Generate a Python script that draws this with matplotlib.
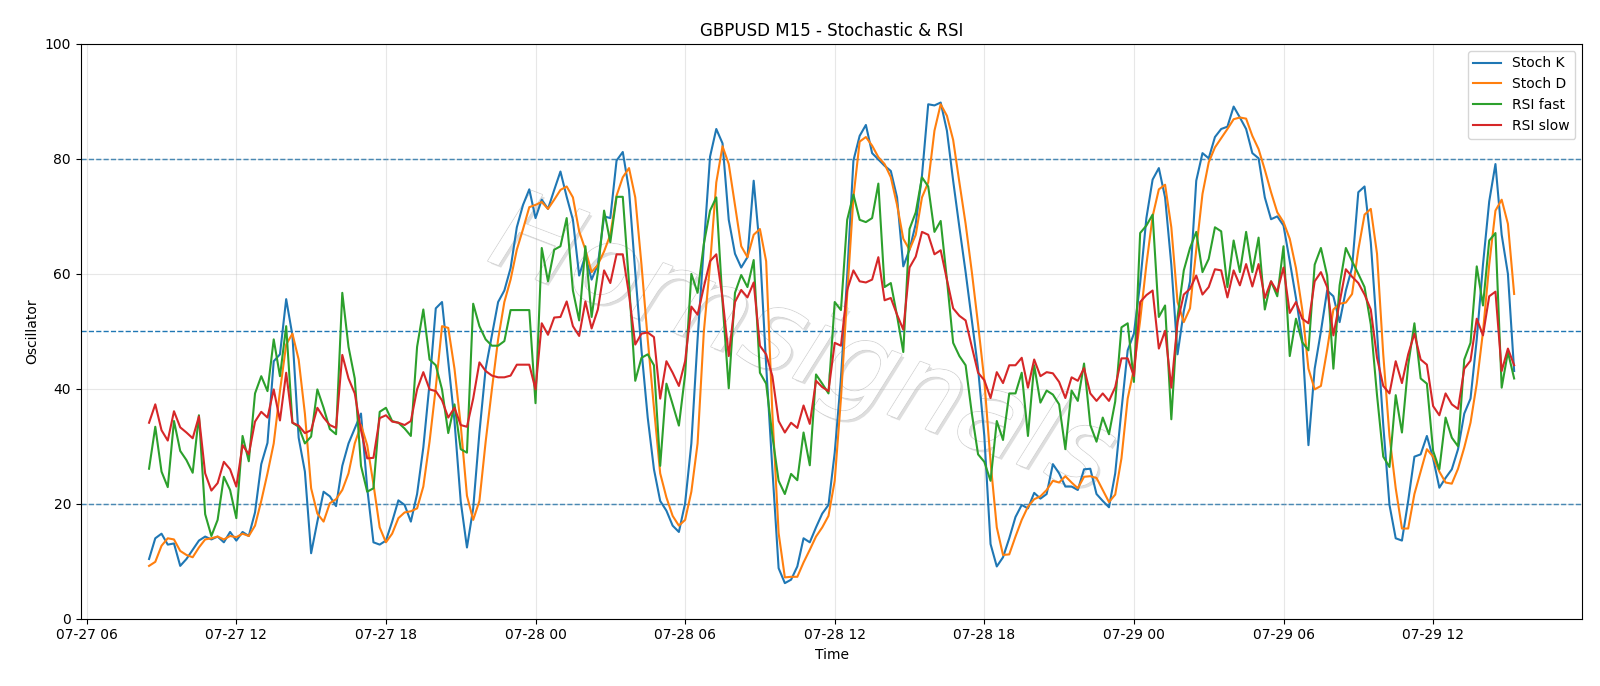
import matplotlib
matplotlib.use("Agg")
import matplotlib.pyplot as plt
import matplotlib.dates as mdates
import matplotlib.patheffects as pe
import pandas as pd

start_time = "2025-07-27 08:30"
n_points = 220

stoch_k = [
    10.4, 14.0, 14.8, 12.9, 13.1, 9.2, 10.4, 12.0, 13.6, 14.3, 13.8, 14.3, 13.3, 15.1, 13.6, 15.1, 14.4, 18.5, 26.9, 30.6,
    44.8, 46.0, 55.6, 49.3, 31.5, 25.6, 11.4, 16.9, 22.1, 21.3, 19.6, 26.6, 30.5, 33.1, 35.7, 22.7, 13.3, 12.9, 13.6, 16.9, 20.6,
    19.8, 16.9, 21.7, 29.8, 40.9, 54.0, 55.1, 44.8, 34.4, 20.4, 12.4, 19.2, 32.4, 43.5, 49.3, 55.1, 57.1, 61.0, 68.1, 72.0, 74.7,
    69.7, 72.9, 71.3, 74.6, 77.8, 73.4, 69.4, 59.7, 63.2, 59.0, 61.6, 70.0, 69.7, 79.7, 81.2, 74.6, 60.3, 46.7, 35.0, 26.0, 20.5,
    18.8, 16.2, 15.1, 20.1, 30.5, 48.6, 64.8, 80.4, 85.2, 82.7, 69.4, 63.5, 61.1, 62.9, 76.2, 64.2, 44.1, 26.0, 8.8, 6.2, 6.8,
    9.1, 14.0, 13.3, 15.9, 18.3, 19.8, 28.9, 41.8, 59.7, 79.7, 84.0, 85.9, 81.0, 79.9, 78.8, 77.9, 73.3, 61.3, 64.2, 68.7, 77.1,
    89.5, 89.3, 89.8, 84.9, 76.2, 68.1, 60.3, 51.9, 43.5, 31.8, 13.0, 9.1, 10.7, 14.0, 17.7, 19.8, 19.2, 21.9, 20.9, 21.7, 26.9,
    25.3, 23.0, 23.0, 22.4, 26.0, 26.1, 21.7, 20.5, 19.4, 25.3, 36.3, 46.7, 49.6, 58.4, 69.7, 76.4, 78.4, 73.3, 61.6, 46.0, 53.5,
    58.7, 76.2, 81.0, 80.1, 83.8, 85.2, 85.6, 89.1, 87.2, 85.2, 81.0, 80.1, 73.3, 69.5, 70.0, 68.4, 62.2, 55.8, 48.6, 30.2, 43.5,
    50.0, 57.1, 56.1, 51.6, 57.1, 61.1, 74.2, 75.2, 65.5, 49.9, 33.7, 19.8, 14.0, 13.6, 20.5, 28.2, 28.6, 31.8, 27.9, 22.8, 24.5,
    26.0, 29.5, 35.7, 38.3, 48.6, 61.6, 72.6, 79.1, 66.8, 60.0, 43.1,
]

stoch_d = [
    9.2, 9.9, 12.7, 14.0, 13.8, 11.8, 11.1, 10.7, 12.4, 13.8, 14.0, 14.3, 13.8, 14.4, 14.2, 14.8, 14.4, 16.2, 20.5, 25.3,
    30.5, 39.6, 47.7, 49.6, 45.1, 35.7, 22.7, 18.3, 16.9, 20.1, 20.8, 22.4, 25.3, 30.5, 33.7, 30.2, 23.4, 15.9, 13.3, 14.8, 17.5,
    18.5, 18.7, 19.2, 23.0, 30.8, 40.2, 50.9, 50.6, 43.5, 33.7, 21.4, 17.2, 20.5, 30.8, 39.9, 48.6, 55.1, 59.0, 64.2, 67.8, 71.6,
    72.0, 72.5, 71.3, 72.9, 74.6, 75.2, 73.3, 67.4, 64.2, 60.3, 61.6, 63.9, 66.8, 73.6, 76.8, 78.4, 73.3, 61.6, 48.6, 36.7, 25.3,
    21.1, 17.9, 16.2, 17.2, 22.1, 30.5, 49.9, 61.6, 75.9, 82.2, 79.1, 72.0, 64.8, 62.9, 66.8, 67.8, 62.2, 35.7, 14.9, 7.2, 7.3,
    7.3, 9.8, 12.0, 14.3, 15.9, 17.9, 24.0, 38.3, 56.4, 73.3, 83.0, 83.8, 82.3, 80.3, 79.1, 76.8, 72.0, 66.1, 64.2, 66.8, 73.3,
    75.9, 84.9, 89.5, 87.5, 83.3, 75.9, 68.7, 60.3, 51.2, 41.5, 27.3, 15.9, 11.1, 11.2, 14.3, 17.2, 19.5, 20.8, 21.3, 22.4, 24.0,
    23.7, 24.8, 23.7, 22.7, 24.7, 24.8, 24.5, 22.4, 20.3, 21.6, 27.9, 38.3, 43.5, 51.9, 61.6, 70.0, 74.7, 75.5, 68.1, 55.1, 51.6,
    54.0, 64.2, 73.9, 79.4, 82.0, 83.6, 85.2, 86.9, 87.2, 87.0, 84.0, 81.7, 78.1, 74.2, 70.7, 69.0, 66.1, 61.0, 53.8, 43.5, 39.9,
    40.5, 46.8, 53.8, 54.8, 55.0, 56.5, 64.2, 70.3, 71.3, 63.5, 46.0, 31.8, 22.7, 15.7, 15.7, 21.7, 25.6, 29.5, 28.2, 25.6, 23.7,
    23.5, 26.1, 29.8, 34.1, 40.9, 49.9, 61.6, 71.0, 72.9, 68.7, 56.5,
]

rsi_fast = [
    26.1, 33.4, 25.6, 22.9, 34.4, 29.2, 27.6, 25.4, 35.4, 18.2, 14.4, 17.2, 24.7, 22.4, 17.5, 31.8, 27.4, 39.2, 42.2, 39.6,
    48.6, 42.2, 50.9, 34.1, 33.4, 30.5, 31.7, 39.9, 36.7, 33.0, 32.1, 56.7, 47.3, 41.8, 26.6, 22.1, 22.7, 36.0, 36.7, 34.4, 34.1,
    33.1, 31.8, 47.3, 53.8, 45.1, 44.1, 39.9, 32.3, 37.3, 29.5, 28.9, 54.8, 50.9, 48.6, 47.5, 47.5, 48.3, 53.7, 53.7, 53.7, 53.7,
    37.5, 64.5, 58.7, 64.2, 64.8, 69.7, 57.1, 51.9, 64.8, 52.5, 60.3, 71.0, 65.5, 73.4, 73.4, 58.4, 41.4, 45.4, 46.0, 44.1, 26.6,
    40.9, 37.3, 33.6, 42.5, 60.0, 56.7, 65.2, 71.0, 73.3, 55.1, 40.1, 56.7, 59.8, 57.7, 62.4, 42.8, 40.9, 31.8, 24.0, 21.7, 25.2,
    24.1, 32.4, 26.7, 42.5, 40.9, 39.2, 55.1, 53.7, 69.4, 73.8, 69.4, 69.0, 69.7, 75.7, 57.7, 58.4, 52.7, 46.4, 67.8, 70.7, 76.8,
    75.2, 67.3, 69.2, 59.0, 48.0, 45.7, 44.1, 35.7, 28.6, 27.3, 24.0, 34.4, 31.1, 39.2, 39.2, 42.8, 31.8, 44.1, 37.6, 39.7, 39.0,
    37.3, 29.5, 39.7, 37.9, 44.4, 33.7, 30.8, 35.0, 32.1, 37.8, 50.7, 51.4, 41.2, 67.1, 68.4, 70.3, 52.5, 54.5, 34.7, 52.5, 60.6,
    64.5, 67.3, 60.3, 62.6, 68.1, 67.4, 57.7, 65.8, 60.3, 67.3, 60.3, 66.3, 53.8, 58.7, 56.1, 64.8, 45.7, 52.2, 48.1, 46.7, 61.6,
    64.5, 59.7, 43.5, 58.0, 64.5, 62.2, 60.0, 57.7, 51.2, 38.9, 28.2, 26.4, 38.9, 32.4, 44.1, 51.4, 41.8, 40.9, 29.2, 26.0, 35.0,
    31.5, 30.0, 45.1, 48.0, 61.3, 54.5, 65.8, 67.1, 40.2, 46.4, 41.8,
]

rsi_slow = [
    34.1, 37.3, 32.8, 31.0, 36.1, 33.3, 32.4, 31.4, 35.2, 25.3, 22.3, 23.6, 27.3, 26.0, 23.0, 30.2, 28.6, 34.3, 36.0, 35.0,
    39.9, 34.5, 42.8, 34.1, 33.6, 32.3, 32.8, 36.7, 35.0, 33.7, 33.2, 45.9, 41.8, 39.2, 32.8, 27.9, 28.0, 34.9, 35.4, 34.3, 34.1,
    33.7, 34.4, 39.9, 42.9, 39.9, 39.6, 38.0, 35.0, 36.7, 33.7, 33.4, 38.3, 44.6, 43.1, 42.3, 42.0, 42.0, 42.3, 44.2, 44.2, 44.2,
    39.9, 51.4, 49.4, 52.4, 52.5, 55.2, 50.9, 49.2, 55.2, 50.5, 53.8, 60.6, 58.4, 63.4, 63.4, 56.4, 47.7, 49.6, 49.8, 49.0, 38.3,
    44.8, 42.8, 40.5, 44.8, 54.3, 52.9, 57.7, 62.2, 63.4, 55.8, 45.7, 55.1, 57.2, 55.9, 58.5, 47.5, 46.0, 42.2, 34.4, 32.4, 34.1,
    33.2, 37.1, 33.9, 41.4, 40.3, 39.6, 48.0, 47.5, 57.2, 60.6, 58.7, 58.5, 59.0, 62.9, 55.4, 55.8, 52.9, 50.3, 61.1, 63.0, 67.3,
    66.8, 63.4, 64.1, 59.0, 54.0, 52.7, 51.9, 47.3, 42.8, 41.5, 38.4, 42.9, 41.0, 44.1, 44.1, 45.4, 40.2, 45.1, 42.2, 42.9, 42.7,
    41.2, 38.4, 42.0, 41.4, 43.6, 39.2, 37.9, 39.2, 37.9, 40.3, 45.3, 45.3, 42.2, 55.1, 56.3, 57.1, 47.0, 50.1, 40.2, 51.6, 56.4,
    57.4, 59.7, 56.4, 57.7, 60.8, 60.6, 55.9, 60.6, 58.0, 61.7, 57.8, 61.7, 55.8, 58.7, 56.9, 61.1, 53.2, 55.1, 52.2, 51.4, 58.7,
    60.3, 57.7, 49.3, 55.1, 60.8, 59.5, 58.4, 56.4, 53.8, 45.4, 40.5, 39.2, 44.8, 41.0, 46.0, 49.6, 45.1, 44.2, 37.0, 35.4, 39.2,
    37.3, 36.5, 43.5, 44.9, 52.2, 49.3, 56.1, 56.9, 43.1, 47.0, 44.1,
]

levels = [80, 50, 20]
series_labels = ["Stoch K", "Stoch D", "RSI fast", "RSI slow"]
watermark = "Hornsignals"

times = pd.date_range(start_time, periods=n_points, freq="15min")

fig, ax = plt.subplots(figsize=(16, 6.86), dpi=100)
fig.subplots_adjust(left=0.0505, right=0.989, top=0.936, bottom=0.098)

ax.text(0.48, 0.47, watermark, transform=ax.transAxes, rotation=-21,
        fontsize=80, color="#ffffff", style="italic",
        ha="center", va="center", zorder=0.5,
        path_effects=[pe.withSimplePatchShadow(offset=(2, -2), shadow_rgbFace="#d0d0d0", alpha=0.7),
                      pe.withStroke(linewidth=1.3, foreground="#d4d4d4"),
                      pe.Normal()])

for vals, lab, col in zip([stoch_k, stoch_d, rsi_fast, rsi_slow], series_labels,
                          ["#1f77b4", "#ff7f0e", "#2ca02c", "#d62728"]):
    ax.plot(times[:len(vals)], vals, label=lab, color=col, lw=1.5, zorder=2)

for lv in levels:
    ax.axhline(lv, color="#1f77b4", ls="--", lw=1.0, zorder=1.5)

ax.set_ylim(0, 100)
ax.grid(True, alpha=0.3)
ax.xaxis.set_major_locator(mdates.HourLocator(byhour=[0, 6, 12, 18]))
ax.xaxis.set_major_formatter(mdates.DateFormatter("%m-%d %H"))
ax.set_title("GBPUSD M15 - Stochastic & RSI", fontsize=12)
ax.set_xlabel("Time")
ax.set_ylabel("Oscillator")
ax.legend(loc="upper right", fontsize=10)

fig.savefig("out.png", dpi=100)
